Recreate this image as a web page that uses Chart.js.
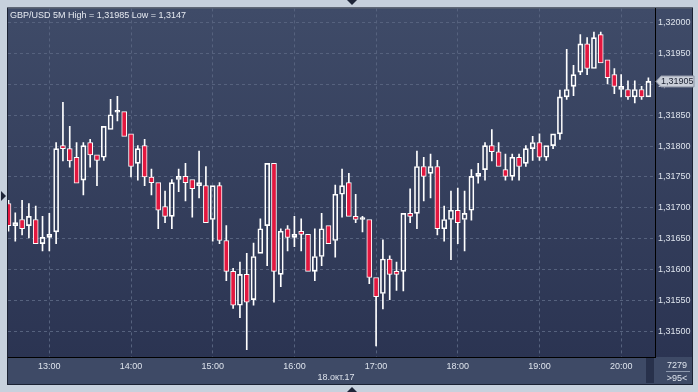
<!DOCTYPE html>
<html>
<head>
<meta charset="utf-8">
<script src="https://cdn.jsdelivr.net/npm/chart.js@4.4.0/dist/chart.umd.min.js"></script>
<style>
  html, body { margin: 0; padding: 0; background: #c7d1dd; }
  #wrap { width: 698px; height: 392px; }
</style>
</head>
<body>
<div id="wrap"><canvas id="grafico" width="698" height="392"></canvas></div>
<script>
// GBP/USD 5M, 18.10.17, 95 velas a partir das 12:30
const inicio = "12:30";
const passoMin = 5;

const abertura = [
  1.31707, 1.31671, 1.31681, 1.31671, 1.31681, 1.31642, 1.31652, 1.31661, 1.31801, 1.31796,
  1.31782, 1.31745, 1.31806, 1.31786, 1.31782, 1.31827, 1.31855, 1.31856, 1.31820, 1.31772,
  1.31801, 1.31750, 1.31741, 1.31702, 1.31686, 1.31746, 1.31751, 1.31746, 1.31736, 1.31736,
  1.31681, 1.31736, 1.31647, 1.31597, 1.31542, 1.31592, 1.31551, 1.31626, 1.31671, 1.31772,
  1.31592, 1.31666, 1.31652, 1.31662, 1.31657, 1.31597, 1.31621, 1.31671, 1.31647, 1.31722,
  1.31741, 1.31686, 1.31681, 1.31681, 1.31587, 1.31561, 1.31617, 1.31597, 1.31597, 1.31691,
  1.31691, 1.31767, 1.31756, 1.31767, 1.31666, 1.31681, 1.31696, 1.31681, 1.31696, 1.31751,
  1.31762, 1.31801, 1.31791, 1.31762, 1.31751, 1.31782, 1.31772, 1.31796, 1.31806, 1.31782,
  1.31801, 1.31820, 1.31880, 1.31897, 1.31920, 1.31966, 1.31926, 1.31981, 1.31940, 1.31916,
  1.31892, 1.31892, 1.31880, 1.31892, 1.31880
];
const maxima = [
  1.31712, 1.31692, 1.31712, 1.31707, 1.31703, 1.31686, 1.31691, 1.31806, 1.31871, 1.31832,
  1.31806, 1.31806, 1.31811, 1.31786, 1.31832, 1.31876, 1.31881, 1.31856, 1.31820, 1.31801,
  1.31811, 1.31763, 1.31741, 1.31727, 1.31746, 1.31763, 1.31772, 1.31746, 1.31792, 1.31767,
  1.31736, 1.31741, 1.31671, 1.31602, 1.31612, 1.31626, 1.31643, 1.31682, 1.31772, 1.31772,
  1.31666, 1.31671, 1.31686, 1.31682, 1.31657, 1.31666, 1.31691, 1.31671, 1.31737, 1.31763,
  1.31756, 1.31722, 1.31686, 1.31681, 1.31587, 1.31648, 1.31622, 1.31612, 1.31691, 1.31731,
  1.31792, 1.31782, 1.31787, 1.31777, 1.31703, 1.31727, 1.31732, 1.31727, 1.31762, 1.31772,
  1.31806, 1.31827, 1.31806, 1.31787, 1.31787, 1.31787, 1.31801, 1.31816, 1.31820, 1.31801,
  1.31820, 1.31891, 1.31957, 1.31931, 1.31981, 1.31976, 1.31985, 1.31985, 1.31940, 1.31926,
  1.31916, 1.31906, 1.31906, 1.31897, 1.31911
];
const minimas = [
  1.31662, 1.31646, 1.31656, 1.31651, 1.31642, 1.31630, 1.31630, 1.31642, 1.31776, 1.31766,
  1.31740, 1.31721, 1.31766, 1.31736, 1.31777, 1.31827, 1.31841, 1.31816, 1.31750, 1.31745,
  1.31736, 1.31721, 1.31666, 1.31676, 1.31666, 1.31726, 1.31711, 1.31685, 1.31716, 1.31676,
  1.31646, 1.31642, 1.31582, 1.31537, 1.31522, 1.31470, 1.31542, 1.31626, 1.31606, 1.31547,
  1.31572, 1.31630, 1.31637, 1.31630, 1.31597, 1.31582, 1.31606, 1.31642, 1.31620, 1.31685,
  1.31686, 1.31676, 1.31661, 1.31577, 1.31476, 1.31536, 1.31551, 1.31566, 1.31565, 1.31676,
  1.31666, 1.31711, 1.31716, 1.31656, 1.31646, 1.31616, 1.31642, 1.31630, 1.31680, 1.31740,
  1.31745, 1.31776, 1.31767, 1.31745, 1.31745, 1.31745, 1.31767, 1.31777, 1.31777, 1.31777,
  1.31796, 1.31811, 1.31876, 1.31882, 1.31916, 1.31916, 1.31926, 1.31935, 1.31901, 1.31885,
  1.31880, 1.31876, 1.31870, 1.31876, 1.31880
];
const fechamento = [
  1.31671, 1.31676, 1.31666, 1.31686, 1.31642, 1.31652, 1.31657, 1.31796, 1.31796, 1.31776,
  1.31740, 1.31801, 1.31786, 1.31777, 1.31832, 1.31851, 1.31856, 1.31816, 1.31767, 1.31796,
  1.31750, 1.31741, 1.31696, 1.31686, 1.31741, 1.31751, 1.31741, 1.31731, 1.31741, 1.31676,
  1.31736, 1.31647, 1.31597, 1.31542, 1.31592, 1.31547, 1.31621, 1.31666, 1.31772, 1.31597,
  1.31662, 1.31652, 1.31657, 1.31657, 1.31597, 1.31621, 1.31666, 1.31642, 1.31722, 1.31736,
  1.31686, 1.31681, 1.31682, 1.31587, 1.31556, 1.31617, 1.31592, 1.31592, 1.31691, 1.31686,
  1.31767, 1.31751, 1.31767, 1.31666, 1.31681, 1.31696, 1.31676, 1.31691, 1.31751, 1.31756,
  1.31801, 1.31791, 1.31767, 1.31751, 1.31782, 1.31767, 1.31796, 1.31806, 1.31782, 1.31801,
  1.31820, 1.31880, 1.31892, 1.31916, 1.31966, 1.31926, 1.31976, 1.31935, 1.31911, 1.31897,
  1.31897, 1.31880, 1.31892, 1.31880, 1.31905
];

const yTicks = [1.315, 1.3155, 1.316, 1.3165, 1.317, 1.3175, 1.318, 1.3185, 1.319, 1.3195, 1.32];
const titulo = "GBP/USD 5M High = 1,31985 Low = 1,3147";
const dataTexto = "18.окт.17";
const contador = "7279";
const qtdBarras = ">95<";

const VERMELHO = "#e3173f";
const BRANCO = "#ffffff";
const FONTE = "'Liberation Sans', Arial, sans-serif";

Chart.defaults.font.family = FONTE;
Chart.defaults.font.size = 9;

// horarios de cada vela
const [h0, m0] = inicio.split(":").map(Number);
const minutos = abertura.map((_, i) => h0 * 60 + m0 + i * passoMin);
const horarios = minutos.map((m) =>
  String(Math.floor(m / 60)).padStart(2, "0") + ":" + String(m % 60).padStart(2, "0"));

const fmt = (v) => v.toFixed(5).replace(".", ",");

const corpos = abertura.map((o, i) => ({ x: i, y: [o, fechamento[i]] }));
const pavioCima = abertura.map((o, i) => {
  const topo = Math.max(o, fechamento[i]);
  return maxima[i] > topo ? { x: i, y: [topo, maxima[i]] } : { x: i, y: null };
});
const pavioBaixo = abertura.map((o, i) => {
  const base = Math.min(o, fechamento[i]);
  return minimas[i] < base ? { x: i, y: [minimas[i], base] } : { x: i, y: null };
});

const fundo = {
  id: "fundo",
  beforeDraw(chart) {
    const { ctx, chartArea: a } = chart;
    ctx.save();
    ctx.fillStyle = "#c7d1dd";
    ctx.fillRect(0, 0, chart.width, chart.height);
    const g = ctx.createLinearGradient(0, a.top, 0, a.bottom);
    g.addColorStop(0, "#3f4b68");
    g.addColorStop(1, "#2b3452");
    ctx.fillStyle = g;
    ctx.fillRect(a.left, a.top, 692 - a.left, a.bottom - a.top);
    ctx.fillStyle = "#3e4a66";
    ctx.fillRect(a.left, a.bottom, 692 - a.left, 384 - a.bottom);
    ctx.fillStyle = "#28314b";
    ctx.fillRect(646, a.bottom + 1, 8, 384 - a.bottom - 2);
    ctx.strokeStyle = "#1b2233";
    ctx.lineWidth = 1;
    ctx.strokeRect(a.left - 0.5, a.top - 0.5, 692 - a.left + 1, 384 - a.top + 1);
    ctx.restore();
  },
  afterDraw(chart) {
    const { ctx, chartArea: a, scales } = chart;
    ctx.save();
    ctx.font = "9px " + FONTE;
    ctx.fillStyle = "#e6eaf1";
    ctx.textBaseline = "alphabetic";
    ctx.textAlign = "left";
    ctx.fillText(titulo, 10, 18);

    ctx.textAlign = "center";
    ctx.fillStyle = "#dde3ec";
    ctx.fillText(dataTexto, 336, 380);
    ctx.fillText(contador, 677, 367.5);
    ctx.fillText(qtdBarras, 677, 380.5);
    ctx.strokeStyle = "#8d98ad";
    ctx.beginPath();
    ctx.moveTo(666, 371.5);
    ctx.lineTo(690, 371.5);
    ctx.stroke();

    // marcador do ultimo preco
    const ultimo = fechamento[fechamento.length - 1];
    const py = scales.y.getPixelForValue(ultimo);
    ctx.fillStyle = "#c9ced8";
    ctx.strokeStyle = "#8c93a3";
    ctx.beginPath();
    ctx.moveTo(656, py);
    ctx.lineTo(661, py - 5.5);
    ctx.lineTo(694, py - 5.5);
    ctx.lineTo(694, py + 5.5);
    ctx.lineTo(661, py + 5.5);
    ctx.closePath();
    ctx.fill();
    ctx.stroke();
    ctx.fillStyle = "#1c2232";
    ctx.textAlign = "left";
    ctx.textBaseline = "middle";
    ctx.fillText(fmt(ultimo), 661, py + 0.5);

    // setinhas das bordas
    ctx.fillStyle = "#1e2538";
    ctx.beginPath();
    ctx.moveTo(347, 0); ctx.lineTo(357, 0); ctx.lineTo(352, 5); ctx.closePath(); ctx.fill();
    ctx.beginPath();
    ctx.moveTo(347, 392); ctx.lineTo(357, 392); ctx.lineTo(352, 387); ctx.closePath(); ctx.fill();
    ctx.beginPath();
    ctx.moveTo(1, 191); ctx.lineTo(1, 201); ctx.lineTo(6, 196); ctx.closePath(); ctx.fill();
    ctx.restore();
  }
};

new Chart(document.getElementById("grafico"), {
  type: "bar",
  data: {
    datasets: [
      {
        label: "corpo",
        data: corpos,
        backgroundColor: abertura.map((o, i) => (fechamento[i] >= o ? "rgba(0,0,0,0)" : VERMELHO)),
        borderColor: BRANCO,
        borderWidth: 1,
        borderSkipped: false,
        barThickness: 5,
        minBarLength: 2,
        grouped: false,
        order: 0
      },
      {
        label: "pavio cima",
        data: pavioCima,
        backgroundColor: BRANCO,
        borderWidth: 0,
        barThickness: 1,
        grouped: false,
        order: 1
      },
      {
        label: "pavio baixo",
        data: pavioBaixo,
        backgroundColor: BRANCO,
        borderWidth: 0,
        barThickness: 1,
        grouped: false,
        order: 1
      }
    ]
  },
  options: {
    responsive: false,
    animation: false,
    layout: { padding: { left: 8, top: 8, right: 6, bottom: 8 } },
    plugins: { legend: { display: false }, tooltip: { enabled: false } },
    scales: {
      x: {
        type: "linear",
        min: -0.07,
        max: 94.97,
        offset: false,
        afterBuildTicks: (s) => {
          s.ticks = minutos.map((m, i) => (m % 60 === 0 ? { value: i } : null)).filter(Boolean);
        },
        afterFit: (s) => { s.height = 27; },
        ticks: {
          color: "#dde3ec",
          padding: 4,
          maxRotation: 0,
          autoSkip: false,
          callback: (v) => horarios[v]
        },
        grid: { color: "#56627e", drawTicks: false, offset: false },
        border: { display: true, color: "#000000", dash: [3, 3] }
      },
      y: {
        type: "linear",
        position: "right",
        min: 1.31458,
        max: 1.320235,
        afterBuildTicks: (s) => { s.ticks = yTicks.map((v) => ({ value: v })); },
        afterFit: (s) => { s.width = 37; },
        ticks: { color: "#dde3ec", padding: 3, callback: (v) => fmt(v) },
        grid: { color: "#56627e", drawTicks: false },
        border: { display: true, color: "#000000", dash: [3, 3] }
      }
    }
  },
  plugins: [fundo]
});
</script>
</body>
</html>
